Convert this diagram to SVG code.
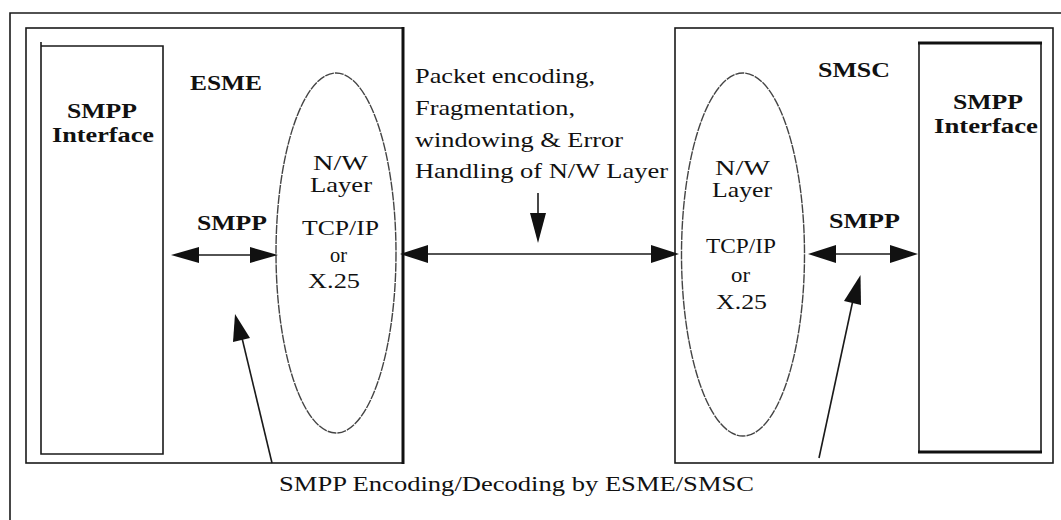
<svg xmlns="http://www.w3.org/2000/svg" width="1061" height="520" viewBox="0 0 1061 520">
  <style>
    .frame { fill: none; stroke: #1a1a1a; stroke-width: 1.6; }
    .thick { fill: none; stroke: #111; stroke-width: 3; }
    .layer { fill: none; stroke: #444; stroke-width: 1.4; stroke-dasharray: 9 1; }
    .link { fill: none; stroke: #1a1a1a; stroke-width: 1.6; }
    .head { fill: #111; stroke: none; }
    text { font-family: "Liberation Serif", "Times New Roman", serif; fill: #111; font-size: 21px; }
    .b { font-weight: bold; font-size: 22px; }
    .bs { font-weight: bold; font-size: 20px; }
  </style>
  <rect width="1061" height="520" fill="#fff"/>

  <!-- outer frame (open to the right and bottom) -->
  <path class="frame" d="M10,520 V13 H1061"/>

  <!-- ESME side -->
  <g id="esme">
    <rect class="frame" x="26" y="28" width="377" height="435" stroke-width="2"/>
    <line class="thick" x1="403" y1="27" x2="403" y2="464"/>
    <text class="b" x="190" y="90" textLength="72" lengthAdjust="spacingAndGlyphs">ESME</text>
  </g>
  <g id="esme-interface">
    <path class="frame" d="M41,42 V454 H163 V46 H41"/>
    <text class="b" x="67" y="118" textLength="70" lengthAdjust="spacingAndGlyphs">SMPP</text>
    <text class="b" x="52" y="142" textLength="102" lengthAdjust="spacingAndGlyphs">Interface</text>
  </g>
  <g id="esme-nw">
    <ellipse class="layer" cx="336" cy="253" rx="60" ry="180"/>
    <text x="313" y="170" textLength="55" lengthAdjust="spacingAndGlyphs">N/W</text>
    <text x="310" y="192" textLength="62" lengthAdjust="spacingAndGlyphs">Layer</text>
    <text x="302" y="235" textLength="77" lengthAdjust="spacingAndGlyphs">TCP/IP</text>
    <text x="330" y="262" textLength="17" lengthAdjust="spacingAndGlyphs">or</text>
    <text x="308" y="288" textLength="52" lengthAdjust="spacingAndGlyphs">X.25</text>
  </g>

  <!-- SMSC side -->
  <g id="smsc">
    <rect class="frame" x="675" y="28" width="378" height="435"/>
    <text class="b" x="818" y="77" textLength="72" lengthAdjust="spacingAndGlyphs">SMSC</text>
  </g>
  <g id="smsc-interface">
    <line class="frame" x1="919" y1="43" x2="919" y2="452"/>
    <line class="frame" x1="1041" y1="43" x2="1041" y2="452" stroke-width="2"/>
    <line class="thick" x1="918" y1="43" x2="1042" y2="43"/>
    <line class="thick" x1="918" y1="452" x2="1042" y2="452"/>
    <text class="bs" x="953" y="109" textLength="70" lengthAdjust="spacingAndGlyphs">SMPP</text>
    <text class="bs" x="934" y="133" textLength="104" lengthAdjust="spacingAndGlyphs">Interface</text>
  </g>
  <g id="smsc-nw">
    <ellipse class="layer" cx="743" cy="254.5" rx="61.5" ry="181.5"/>
    <text x="715" y="175" textLength="55" lengthAdjust="spacingAndGlyphs">N/W</text>
    <text x="712" y="197" textLength="60" lengthAdjust="spacingAndGlyphs">Layer</text>
    <text x="706" y="253" textLength="70" lengthAdjust="spacingAndGlyphs">TCP/IP</text>
    <text x="731" y="282" textLength="19" lengthAdjust="spacingAndGlyphs">or</text>
    <text x="716" y="309" textLength="51" lengthAdjust="spacingAndGlyphs">X.25</text>
  </g>

  <!-- network layer note -->
  <g id="nw-note">
    <text x="415" y="83" textLength="180" lengthAdjust="spacingAndGlyphs">Packet encoding,</text>
    <text x="415" y="115" textLength="160" lengthAdjust="spacingAndGlyphs">Fragmentation,</text>
    <text x="415" y="147" textLength="208" lengthAdjust="spacingAndGlyphs">windowing &amp; Error</text>
    <text x="415" y="178" textLength="253" lengthAdjust="spacingAndGlyphs">Handling of N/W Layer</text>
  </g>

  <!-- SMPP labels and caption -->
  <g id="labels">
    <text class="b" x="197" y="230" textLength="70" lengthAdjust="spacingAndGlyphs">SMPP</text>
    <text class="b" x="829" y="228" textLength="71" lengthAdjust="spacingAndGlyphs">SMPP</text>
    <text x="279" y="491" textLength="475" lengthAdjust="spacingAndGlyphs">SMPP Encoding/Decoding by ESME/SMSC</text>
  </g>

  <!-- connectors -->
  <g id="connectors">
    <!-- ESME SMPP double arrow -->
    <line class="link" x1="195" y1="255" x2="254" y2="255"/>
    <polygon class="head" points="171,255 199,247 199,263"/>
    <polygon class="head" points="278,255 250,247 250,263"/>
    <!-- network link between layers -->
    <line class="link" x1="425" y1="254" x2="654" y2="254"/>
    <polygon class="head" points="400,254 428,245 428,263"/>
    <polygon class="head" points="679,254 651,245 651,263"/>
    <!-- note pointer -->
    <line class="link" x1="538" y1="193" x2="538" y2="216"/>
    <polygon class="head" points="538,243 530,213 546,213"/>
    <!-- SMSC SMPP double arrow -->
    <line class="link" x1="832" y1="254" x2="894" y2="254"/>
    <polygon class="head" points="808,254 836,245 836,263"/>
    <polygon class="head" points="918,254 890,245 890,263"/>
    <!-- caption pointers -->
    <line class="link" x1="272" y1="463" x2="242" y2="338"/>
    <polygon class="head" points="235,314 233,342 250,338"/>
    <line class="link" x1="819" y1="458" x2="853" y2="300"/>
    <polygon class="head" points="860.5,275 844,301 861,305"/>
  </g>
</svg>
